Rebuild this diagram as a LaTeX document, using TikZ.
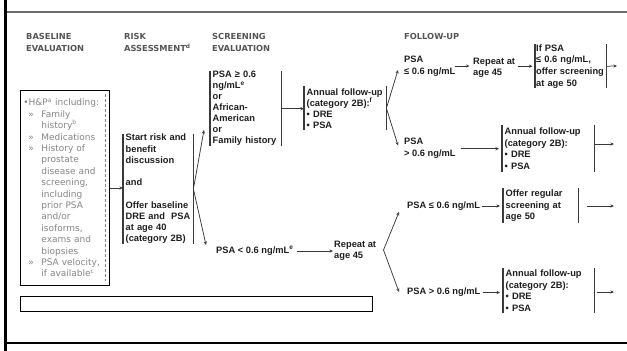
\documentclass[tikz,border=0pt]{standalone}
\usepackage{fontspec}
\setmainfont{Liberation Sans}
\newfontfamily\dejavu{DejaVu Sans}
\usetikzlibrary{arrows.meta}
\definecolor{txt}{HTML}{1E1E1E}
\definecolor{hdr}{HTML}{555555}
\definecolor{lightt}{HTML}{858585}
\definecolor{ln}{HTML}{3A3A3A}
\hyphenpenalty=10000
\exhyphenpenalty=10000
\hbadness=10000
\hfuzz=20pt
\begin{document}
\begin{tikzpicture}[x=1pt,y=-1pt,
  bt/.style={font=\fontsize{9.3}{11.2}\selectfont\bfseries, text=txt, inner sep=0pt, align=left},
  brk/.style={bt, anchor=north west, inner xsep=2.5pt, inner ysep=0pt},
  plain/.style={bt, anchor=west},
  hd/.style={font=\dejavu\fontsize{8.3}{12}\selectfont\bfseries, text=hdr, inner sep=0pt, anchor=base west, align=left, text width=100pt},
  brl/.style={draw=ln, line width=1.1pt},
  arr/.style={draw=ln, line width=0.75pt, -{Stealth[length=3.6pt,width=3.2pt]}},
  basebox/.style={draw=black, line width=0.8pt, anchor=north west, inner xsep=3pt, inner ysep=0pt,
     font=\dejavu\fontsize{9}{11.4}\selectfont, text=lightt, align=left}
]
\useasboundingbox (0,0) rectangle (627,351);

% frame
\draw[black, line width=3pt] (5.5,0) -- (5.5,351);
\draw[gray!85!black, line width=2pt] (7,12) -- (627,12);
\draw[black, line width=1.1pt] (7,343) -- (627,343);

% headers
\node[hd] (h1) at (26,39) {BASELINE\\EVALUATION};
\node[hd] (h2) at (124,39) {RISK\\ASSESSMENT\textsuperscript{d}};
\node[hd] (h3) at (212,39) {SCREENING\\EVALUATION};
\node[hd] (h4) at (404,39.5) {FOLLOW-UP};

% baseline evaluation box
\node[basebox, text width=83pt, minimum width=89pt, minimum height=195pt] (base) at (20,90)
 {•H\&P\textsuperscript{a} including:\\
  \hspace*{5pt}\makebox[13pt][l]{»}Family\\
  \hspace*{18pt}history\textsuperscript{b}\\
  \hspace*{5pt}\makebox[13pt][l]{»}Medications\\
  \hspace*{5pt}\makebox[13pt][l]{»}History of\\
  \hspace*{18pt}prostate\\
  \hspace*{18pt}disease and\\
  \hspace*{18pt}screening,\\
  \hspace*{18pt}including\\
  \hspace*{18pt}prior PSA\\
  \hspace*{18pt}and/or\\
  \hspace*{18pt}isoforms,\\
  \hspace*{18pt}exams and\\
  \hspace*{18pt}biopsies\\
  \hspace*{5pt}\makebox[13pt][l]{»}PSA velocity,\\
  \hspace*{18pt}if available\textsuperscript{c}};
\draw[lightt, line width=0.6pt, densely dashed] ([xshift=-4.5pt,yshift=-4pt]base.north east) -- ([xshift=-4.5pt,yshift=5pt]base.south east);

% bracket nodes
\node[brk, text width=65pt, minimum height=108pt] (risk) at (123,134)
 {Start risk and\\benefit\\discussion\\\mbox{}\\and\\\mbox{}\\Offer baseline\\DRE and\ \ PSA\\at age 40\\(category 2B)};
\node[brk, text width=66pt, minimum height=75pt, font=\fontsize{9.3}{11}\selectfont\bfseries] (scr) at (210,71)
 {PSA ≥ 0.6\\ng/mL\textsuperscript{e}\\or\\African-\\American\\or\\Family history};
\node[brk, text width=77pt, minimum height=44pt, font=\fontsize{9.3}{11}\selectfont\bfseries] (ann) at (304,86)
 {Annual follow-up\\(category 2B):\textsuperscript{f}\\• DRE\\• PSA};
\node[brk, text width=69pt, inner xsep=1pt, minimum height=44pt, font=\fontsize{9.3}{11.7}\selectfont\bfseries] (ifpsa) at (535,44)
 {If PSA\\≤ 0.6 ng/mL,\\offer screening\\at age 50};
\node[brk, text width=87pt, minimum height=47pt, font=\fontsize{9.3}{11.6}\selectfont\bfseries] (annB) at (502,125)
 {Annual follow-up\\(category 2B):\\• DRE\\• PSA};
\node[brk, text width=70pt, minimum height=35pt, font=\fontsize{9.3}{11.6}\selectfont\bfseries] (offer) at (503,188)
 {Offer regular\\screening at\\age 50};
\node[brk, text width=86pt, minimum height=45pt, font=\fontsize{9.3}{11.4}\selectfont\bfseries] (annC) at (503,268)
 {Annual follow-up\\(category 2B):\\• DRE\\• PSA};
\foreach \n in {risk,scr,ann,ifpsa,annB,offer,annC}
  \draw[brl] (\n.north west) -- (\n.south west) (\n.north east) -- (\n.south east);

% plain labels
\node[plain, font=\fontsize{9.3}{12}\selectfont\bfseries] (psaA) at (404,66) {PSA\\≤ 0.6 ng/mL};
\node[plain] (repA) at (473,67.5) {Repeat at\\age 45};
\node[plain, font=\fontsize{9.3}{12}\selectfont\bfseries] (psaB) at (404,148.5) {PSA\\> 0.6 ng/mL};
\node[plain] (psaL) at (216,251) {PSA < 0.6 ng/mL\textsuperscript{e}};
\node[plain] (repB) at (334,251) {Repeat at\\age 45};
\node[plain] (psaC) at (407,206) {PSA ≤ 0.6 ng/mL};
\node[plain] (psaD) at (407,292.5) {PSA > 0.6 ng/mL};

% free ends
\coordinate (t1) at (204,130);
\coordinate (t2) at (206,245);
\coordinate (t3) at (398,70);
\coordinate (t4) at (398,145.5);
\coordinate (f3) at (383.5,250);
\coordinate (t5) at (399,212);
\coordinate (t6) at (399,292);
\coordinate (e1) at (617,66);
\coordinate (e2) at (614,144);
\coordinate (e3) at (614,206);
\coordinate (e4) at (614,292);

% connectors
\draw[arr] (base.east) -- (base.east -| risk.west);
\draw[arr] (risk.east) -- (t1);
\draw[arr] (risk.east) -- (t2);
\draw[arr] (scr.east) -- (scr.east -| ann.west);
\draw[arr] (ann.east) -- (t3);
\draw[arr] (ann.east) -- (t4);
\draw[arr, shorten >=3.5pt] (psaA.east) -- (psaA.east -| repA.west);
\draw[arr, shorten <=3pt, shorten >=2.5pt] (repA.east |- ifpsa.west) -- (ifpsa.west);
\draw[arr] (ifpsa.east) -- (e1);
\draw[arr, shorten <=5pt, shorten >=3pt] (psaB.east |- annB.west) -- (annB.west);
\draw[arr] (annB.east |- e2) -- (e2);
\draw[arr, shorten <=3pt, shorten >=1pt] (psaL.east) -- (psaL.east -| repB.west);
\draw[arr] (f3) -- (t5);
\draw[arr] (f3) -- (t6);
\draw[arr, shorten <=2pt, shorten >=3pt] (psaC.east) -- (psaC.east -| offer.west);
\draw[arr, shorten <=9pt] (offer.east |- e3) -- (e3);
\draw[arr, shorten <=2pt, shorten >=3pt] (psaD.east) -- (psaD.east -| annC.west);
\draw[arr, shorten <=3pt] (annC.east |- e4) -- (e4);

% bottom empty box
\node[draw=black, line width=0.8pt, anchor=north west, minimum width=352pt, minimum height=15pt, inner sep=0pt] (note) at (20,296) {};
\end{tikzpicture}
\end{document}
